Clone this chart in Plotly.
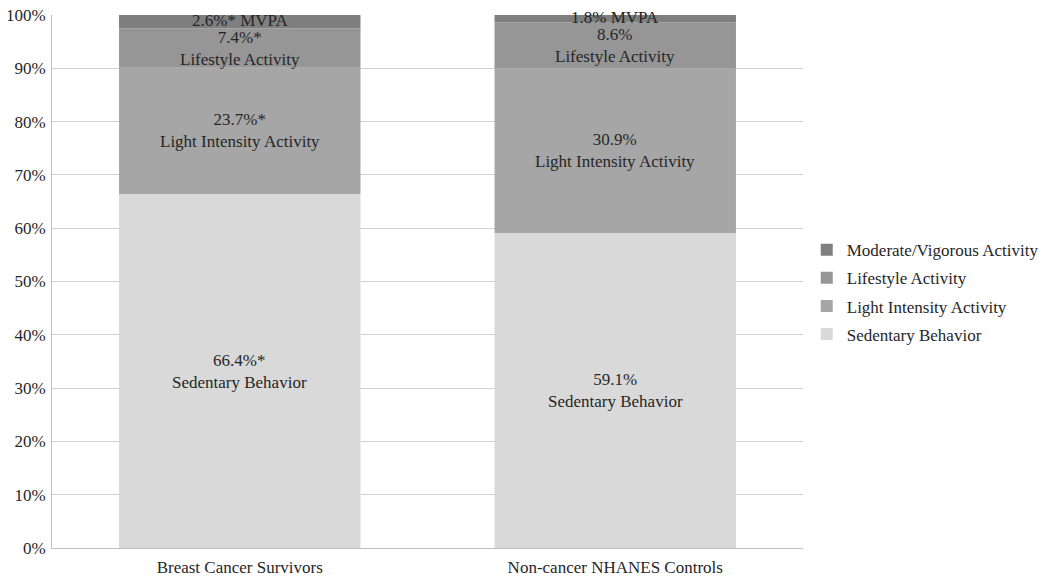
import plotly.graph_objects as go

# data
grupos = ["Breast Cancer Survivors", "Non-cancer NHANES Controls"]
sedentario = [66.4, 59.1]
ligera = [23.7, 30.9]
estilo_vida = [7.4, 8.6]
mvpa = [2.6, 1.8]

etiquetas_sed = ["66.4%*<br>Sedentary Behavior", "59.1%<br>Sedentary Behavior"]
etiquetas_lig = ["23.7%*<br>Light Intensity Activity", "30.9%<br>Light Intensity Activity"]
etiquetas_est = ["7.4%*<br>Lifestyle Activity", "8.6%<br>Lifestyle Activity"]
etiquetas_mvpa = ["2.6%* MVPA", "1.8% MVPA"]

ticks_y = [0, 10, 20, 30, 40, 50, 60, 70, 80, 90, 100]

fuente = "Liberation Serif"
color_texto = "#262626"

series = [
    ("Sedentary Behavior", sedentario, "#d9d9d9", etiquetas_sed),
    ("Light Intensity Activity", ligera, "#a6a6a6", etiquetas_lig),
    ("Lifestyle Activity", estilo_vida, "#969696", etiquetas_est),
    ("Moderate/Vigorous Activity", mvpa, "#7f7f7f", etiquetas_mvpa),
]

fig = go.Figure()
base = [0.0, 0.0]
anotaciones = []
for k, (nombre, valores, color, textos) in enumerate(series):
    fig.add_trace(go.Bar(
        x=grupos, y=valores, base=base, name=nombre, legendgroup=nombre,
        legendrank=1000 - k,
        marker=dict(color=color, line=dict(width=0)),
        width=0.643,
    ))
    # label in the middle of the visible part of each segment
    for i, g in enumerate(grupos):
        arriba = min(base[i] + valores[i], 100)
        centro = (base[i] + arriba) / 2
        anotaciones.append(dict(
            x=g, y=centro, xref="x", yref="y", text=textos[i],
            showarrow=False, borderpad=0, yshift=1 if k == 3 else 0,
            font=dict(family=fuente, size=17, color=color_texto),
        ))
    base = [b + v for b, v in zip(base, valores)]

# the page adds an 8px body margin, so the figure is a bit smaller
fig.update_layout(
    barmode="overlay",
    width=1042, height=577,
    margin=dict(l=44, r=247, t=7, b=37, autoexpand=False),
    plot_bgcolor="white", paper_bgcolor="white",
    font=dict(family=fuente, size=17, color=color_texto),
    annotations=anotaciones,
    legend=dict(
        traceorder="grouped", x=1.005, y=0.48, yanchor="middle", xanchor="left",
        font=dict(family=fuente, size=17, color=color_texto),
        itemwidth=30, tracegroupgap=3,
    ),
    xaxis=dict(
        showline=True, linecolor="#bfbfbf", linewidth=1, ticks="",
        tickfont=dict(size=17), automargin=False, ticklabelstandoff=4,
    ),
    yaxis=dict(
        range=[0, 100], tickvals=ticks_y, ticktext=[f"{t}%" for t in ticks_y],
        showgrid=True, gridcolor="#d0d0d0", gridwidth=1,
        showline=True, linecolor="#bfbfbf", linewidth=1,
        zeroline=False, tickfont=dict(size=17), ticklen=0, automargin=False,
        ticklabelstandoff=2, ticklabeloverflow="allow",
    ),
    showlegend=True,
)

fig.write_html("out.html")
